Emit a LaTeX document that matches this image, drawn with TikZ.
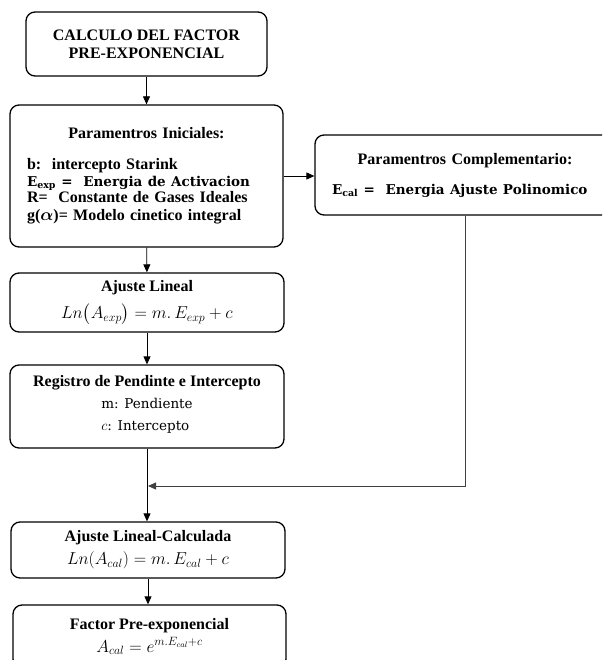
\documentclass[tikz,border=0pt]{standalone}
\usepackage{amsmath}
\usepackage{fontspec}
\setmainfont{Liberation Serif}
\newfontfamily\cambria{DejaVu Serif}
\usetikzlibrary{arrows.meta,positioning,calc}

\begin{document}
\begin{tikzpicture}[x=1pt, y=-1pt,
    box/.style={draw, line width=1.3pt, rounded corners=9pt, align=center, inner sep=2pt, font=\fontsize{16}{18}\selectfont},
    link/.style={-{Triangle[length=8pt,width=7pt]}, line width=0.8pt}
]
\useasboundingbox (0,0) rectangle (602,660);
\clip (0,0) rectangle (602,660);
\node[box, minimum width=241pt, minimum height=64pt] (calcfac) at (146.5,44) {\textbf{CALCULO DEL FACTOR}\\\textbf{PRE-EXPONENCIAL}};
\node[box, minimum width=273pt, minimum height=142pt, inner xsep=17pt, text width=239pt, align=left] (iniciales) at (146.5,176)
  {\makebox[\linewidth][c]{\textbf{Paramentros Iniciales:}}\\[14pt]
   \fontsize{16}{16.7}\selectfont
   \textbf{b:\ \ intercepto Starink}\\
   {\cambria\fontsize{13.5}{16.7}\selectfont\textbf{E\textsubscript{exp}\ =\ \ Energia de Activacion}}\\
   \textbf{R=\ \ Constante de Gases Ideales}\\
   \textbf{g($\boldsymbol{\alpha}$)= Modelo cinetico integral}};
\node[box, minimum width=300pt, minimum height=80pt, inner xsep=17pt, text width=266pt, align=left] (complem) at (465,175)
  {\makebox[\linewidth][c]{\textbf{Paramentros Complementario:}}\\[12pt]
   {\cambria\fontsize{13.5}{17}\selectfont\textbf{E\textsubscript{cal}\ =\ \ Energia Ajuste Polinomico}}};
\node[box, minimum width=274pt, minimum height=59pt] (lineal) at (147,302.5)
  {\textbf{Ajuste Lineal}\\[8pt]\fontsize{17}{20}\selectfont$Ln\bigl(A_{exp}\bigr) = m.\,E_{exp} + c$};
\node[box, minimum width=274pt, minimum height=83pt] (registro) at (147,406.5)
  {\textbf{Registro de Pendinte e Intercepto}\\[2pt]
   {\cambria\fontsize{13.5}{22}\selectfont\begin{tabular}{@{}l@{}}m: Pendiente\\$c$: Intercepto\end{tabular}}};
\node[box, minimum width=274pt, minimum height=56pt] (calculada) at (148,550)
  {\textbf{Ajuste Lineal-Calculada}\\[5pt]\fontsize{17}{20}\selectfont$Ln(A_{cal}) = m.\,E_{cal} + c$};
\node[box, minimum width=273pt, minimum height=63pt] (factor) at (149.5,636.5)
  {\textbf{Factor Pre-exponencial}\\[5pt]\fontsize{17}{20}\selectfont$A_{cal} = e^{m.E_{cal}+c}$};
\coordinate (union) at (148,486);
\draw[link] (calcfac) -- (iniciales);
\draw[link] (iniciales.east) -- (iniciales.east -| complem.west);
\draw[link] (iniciales) -- (lineal);
\draw[link] (lineal) -- (registro);
\draw[link] (registro.south) -- (registro.south |- calculada.north);
\draw[link, black!75] (complem.south) |- (union);
\draw[link] (calculada.south) -- (calculada.south |- factor.north);
\end{tikzpicture}
\end{document}
